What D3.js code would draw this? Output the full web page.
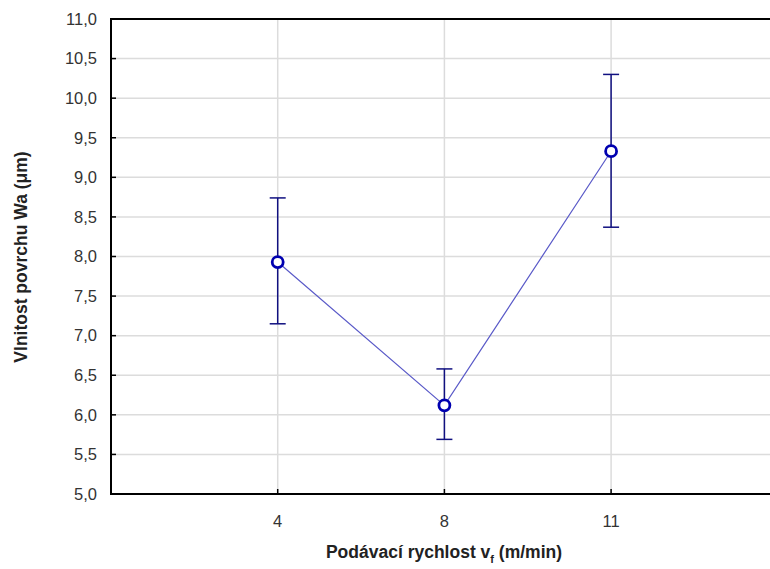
<!DOCTYPE html>
<html>
<head>
<meta charset="utf-8">
<script src="https://cdn.jsdelivr.net/npm/d3@7"></script>
<style>
  body { margin: 0; background: #fff; }
  text { font-family: Arial, "Liberation Sans", sans-serif; }
</style>
</head>
<body>
<div id="chart"></div>
<script>
// data
var categories = ["4", "8", "11"];
var means = [7.93, 6.12, 9.33];
var upper = [8.74, 6.58, 10.30];
var lower = [7.15, 5.69, 8.37];
var yTicks = [5, 5.5, 6, 6.5, 7, 7.5, 8, 8.5, 9, 9.5, 10, 10.5, 11];

var w = 770, h = 569;
var plotLeft = 111, plotTop = 19, plotBottom = 494;

var svg = d3.select("#chart").append("svg")
    .attr("width", w)
    .attr("height", h);

var x = d3.scaleLinear().domain([0, 4]).range([plotLeft, plotLeft + 4 * 166.7]);
var y = d3.scaleLinear().domain([5, 11]).range([plotBottom, plotTop]);

var fmt = function (d) { return d3.format(".1f")(d).replace(".", ","); };

// gridlines
svg.append("g").selectAll("line")
    .data(yTicks.slice(1, -1))
    .enter().append("line")
    .attr("x1", plotLeft).attr("x2", w)
    .attr("y1", function (d) { return y(d); })
    .attr("y2", function (d) { return y(d); })
    .style("stroke", "#dcdcdc").style("stroke-width", 1.5);

svg.append("g").selectAll("line")
    .data(categories)
    .enter().append("line")
    .attr("x1", function (d, i) { return x(i + 1); })
    .attr("x2", function (d, i) { return x(i + 1); })
    .attr("y1", plotTop).attr("y2", plotBottom)
    .style("stroke", "#dcdcdc").style("stroke-width", 1.5);

// y axis ticks (inward) and labels
svg.append("g").selectAll("line")
    .data(yTicks)
    .enter().append("line")
    .attr("x1", plotLeft).attr("x2", plotLeft + 5)
    .attr("y1", function (d) { return y(d); })
    .attr("y2", function (d) { return y(d); })
    .style("stroke", "#000").style("stroke-width", 1.5);

svg.append("g").selectAll("text")
    .data(yTicks)
    .enter().append("text")
    .attr("x", 97)
    .attr("y", function (d) { return y(d); })
    .attr("dy", "0.35em")
    .attr("text-anchor", "end")
    .style("font-size", "16.5px")
    .style("fill", "#333")
    .text(fmt);

// x axis ticks and labels
svg.append("g").selectAll("line")
    .data(categories)
    .enter().append("line")
    .attr("x1", function (d, i) { return x(i + 1); })
    .attr("x2", function (d, i) { return x(i + 1); })
    .attr("y1", plotBottom).attr("y2", plotBottom - 5)
    .style("stroke", "#000").style("stroke-width", 1.5);

svg.append("g").selectAll("text")
    .data(categories)
    .enter().append("text")
    .attr("x", function (d, i) { return x(i + 1); })
    .attr("y", 527)
    .attr("text-anchor", "middle")
    .style("font-size", "16.5px")
    .style("fill", "#333")
    .text(function (d) { return d; });

// frame
svg.append("path")
    .attr("d", "M" + w + "," + plotTop + "H" + plotLeft + "V" + plotBottom + "H" + w)
    .style("fill", "none").style("stroke", "#000").style("stroke-width", 2);

// connecting line
var line = d3.line()
    .x(function (d, i) { return x(i + 1); })
    .y(function (d) { return y(d); });

svg.append("path")
    .datum(means)
    .attr("d", line)
    .style("fill", "none")
    .style("stroke", "#5a5ac8")
    .style("stroke-width", 1.2);

// error bars
var bars = svg.append("g").selectAll("g")
    .data(means)
    .enter().append("g");

bars.append("line")
    .attr("x1", function (d, i) { return x(i + 1); })
    .attr("x2", function (d, i) { return x(i + 1); })
    .attr("y1", function (d, i) { return y(upper[i]); })
    .attr("y2", function (d, i) { return y(lower[i]); })
    .style("stroke", "#101080").style("stroke-width", 1.5);

bars.append("line")
    .attr("x1", function (d, i) { return x(i + 1) - 8; })
    .attr("x2", function (d, i) { return x(i + 1) + 8; })
    .attr("y1", function (d, i) { return y(upper[i]); })
    .attr("y2", function (d, i) { return y(upper[i]); })
    .style("stroke", "#101080").style("stroke-width", 1.5);

bars.append("line")
    .attr("x1", function (d, i) { return x(i + 1) - 8; })
    .attr("x2", function (d, i) { return x(i + 1) + 8; })
    .attr("y1", function (d, i) { return y(lower[i]); })
    .attr("y2", function (d, i) { return y(lower[i]); })
    .style("stroke", "#101080").style("stroke-width", 1.5);

// markers
svg.append("g").selectAll("circle")
    .data(means)
    .enter().append("circle")
    .attr("cx", function (d, i) { return x(i + 1); })
    .attr("cy", function (d) { return y(d); })
    .attr("r", 5.5)
    .style("fill", "#fff")
    .style("stroke", "#0000b0")
    .style("stroke-width", 2.8);

// axis titles
var xt = svg.append("text")
    .attr("x", 444)
    .attr("y", 558)
    .attr("text-anchor", "middle")
    .style("font-size", "17.5px")
    .style("font-weight", "bold")
    .style("fill", "#222");
xt.append("tspan").text("Podávací rychlost v");
xt.append("tspan").attr("dy", 5).style("font-size", "11px").text("f");
xt.append("tspan").attr("dy", -5).text(" (m/min)");

svg.append("text")
    .attr("transform", "translate(27,257) rotate(-90)")
    .attr("text-anchor", "middle")
    .style("font-size", "17.5px")
    .style("font-weight", "bold")
    .style("fill", "#222")
    .text("Vlnitost povrchu Wa (μm)");
</script>
</body>
</html>
